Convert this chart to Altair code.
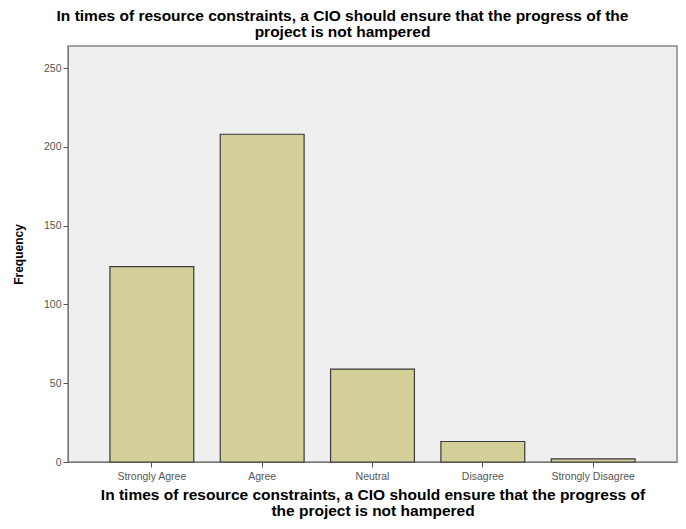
import altair as alt
import pandas as pd

categories = ["Strongly Agree", "Agree", "Neutral", "Disagree", "Strongly Disagree"]
frequency = [124, 208, 59, 13, 2]
y_ticks = [0, 50, 100, 150, 200, 250]

title_lines = ["In times of resource constraints, a CIO should ensure that the progress of the",
               "project is not hampered"]
x_title_lines = ["In times of resource constraints, a CIO should ensure that the progress of",
                 "the project is not hampered"]

df = pd.DataFrame({"cat": categories, "freq": frequency})

FONT = "Liberation Sans"

chart = alt.Chart(df).mark_bar(
    fill="#d4cf99", stroke="#3a3a3a", strokeWidth=1.2
).encode(
    x=alt.X("cat:N", sort=categories,
            scale=alt.Scale(paddingInner=0.24, paddingOuter=0.38),
            axis=alt.Axis(title=x_title_lines, labelAngle=0, labelFontSize=10.5,
                          labelColor="#555555", labelFont=FONT,
                          titleFont=FONT, titleFontSize=15.5, titleFontWeight="bold",
                          titleColor="#000000", titlePadding=6, titleLineHeight=16,
                          tickSize=5, tickColor="#555555", domainColor="#777777",
                          labelPadding=4)),
    y=alt.Y("freq:Q", scale=alt.Scale(domain=[0, 264], nice=False),
            axis=alt.Axis(title="Frequency", values=y_ticks, grid=False,
                          labelFontSize=10.5, labelColor="#555555", labelFont=FONT,
                          titleFont=FONT, titleFontSize=12, titleFontWeight="bold",
                          titleColor="#000000", titlePadding=18,
                          tickSize=5, tickColor="#555555", domainColor="#777777")),
).properties(
    width=609, height=416,
    title=alt.TitleParams(text=title_lines, font=FONT, fontSize=15.5, fontWeight="bold",
                          color="#000000", anchor="middle", dx=-30, offset=6,
                          lineHeight=16),
    autosize=alt.AutoSizeParams(type="none"),
    padding={"left": 60, "top": 38, "right": 1, "bottom": 64},
).configure_view(
    fill="#efefef", stroke="#888888", strokeWidth=1.5
)

chart.save("out.html", embed_options={"renderer": "svg", "actions": False})
